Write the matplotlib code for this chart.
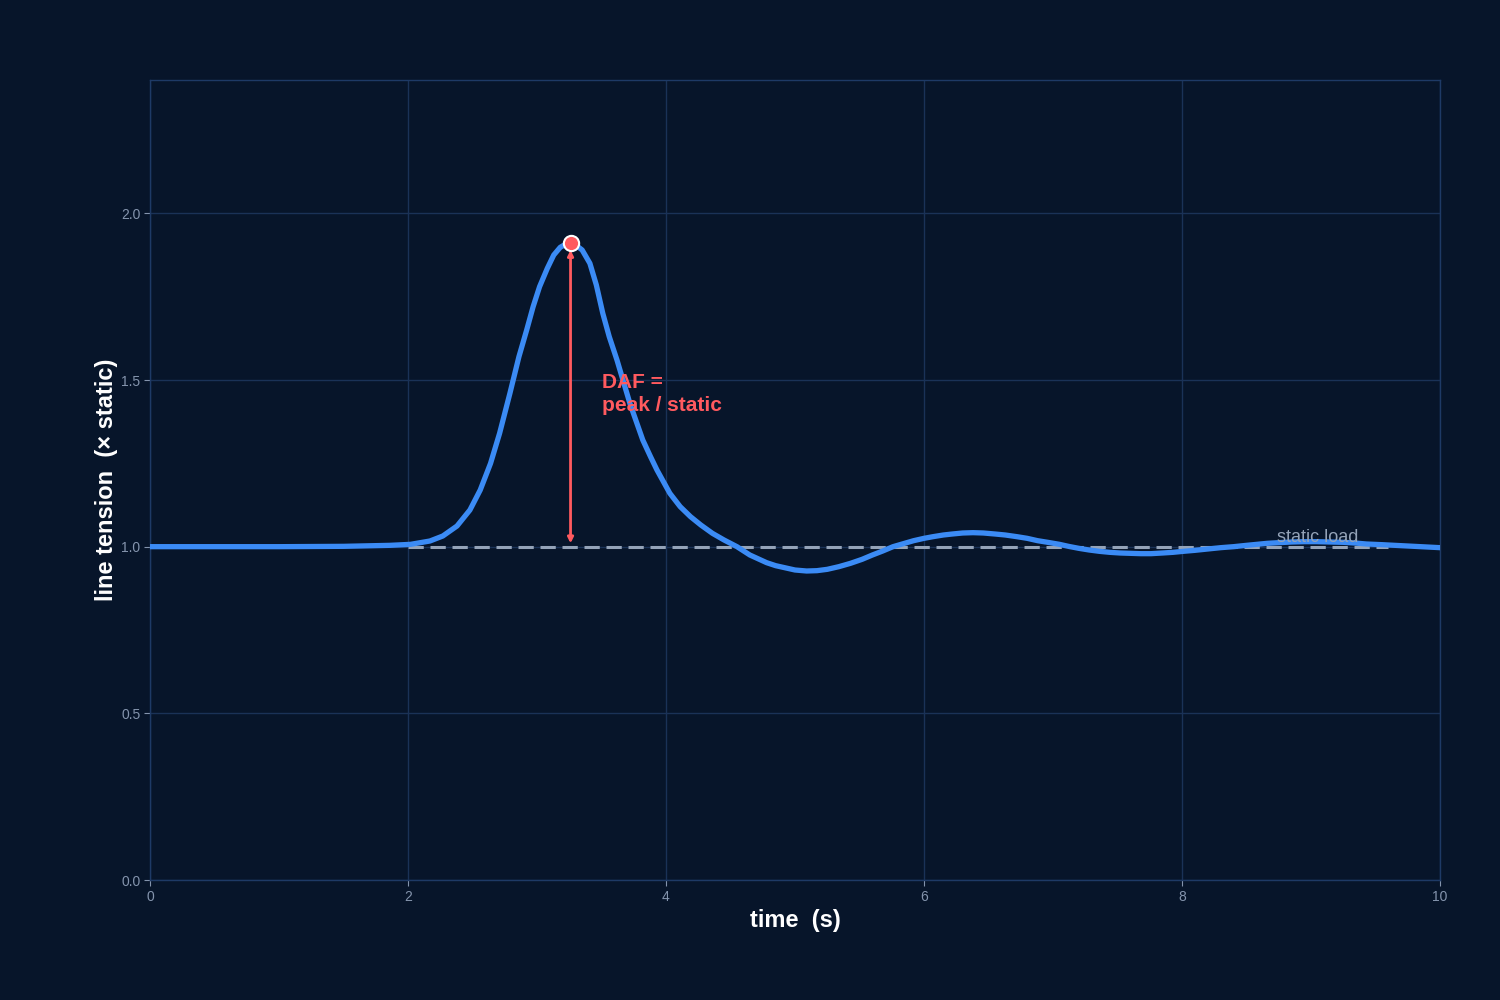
import matplotlib
matplotlib.use("Agg")
import matplotlib.pyplot as plt

plt.rcParams['font.family'] = ['Liberation Sans', 'DejaVu Sans']

# Data
time_s = [0.0, 1.0, 1.5, 1.86, 2.02, 2.17, 2.27, 2.38, 2.48, 2.56, 2.64, 2.71, 2.79,
          2.86, 2.92, 2.97, 3.02, 3.08, 3.13, 3.18, 3.22, 3.26, 3.30, 3.35, 3.41, 3.46,
          3.51, 3.56, 3.62, 3.67, 3.72, 3.77, 3.82, 3.88, 3.93, 3.98, 4.03, 4.11, 4.19,
          4.27, 4.36, 4.45, 4.55, 4.65, 4.78, 4.85, 5.0, 5.09, 5.17, 5.25, 5.34, 5.43,
          5.52, 5.6, 5.68, 5.76, 5.84, 5.92, 6.0, 6.07, 6.15, 6.22, 6.3, 6.38, 6.46,
          6.55, 6.63, 6.72, 6.8, 6.88, 6.96, 7.05, 7.12, 7.2, 7.28, 7.36, 7.44, 7.52,
          7.6, 7.68, 7.76, 7.85, 7.93, 8.01, 8.1, 8.2, 8.3, 8.4, 8.5, 8.66, 8.75, 8.85,
          8.95, 9.04, 9.15, 9.25, 9.34, 9.43, 9.55, 9.7, 9.8, 10.0]
tension = [1.0, 1.0, 1.001, 1.004, 1.007, 1.017, 1.032, 1.062, 1.11, 1.17, 1.25, 1.34,
           1.46, 1.57, 1.65, 1.72, 1.78, 1.835, 1.875, 1.898, 1.907, 1.91, 1.905, 1.89,
           1.85, 1.785, 1.70, 1.63, 1.56, 1.495, 1.43, 1.375, 1.32, 1.27, 1.23, 1.195,
           1.16, 1.12, 1.09, 1.065, 1.04, 1.02, 1.0, 0.975, 0.952, 0.943, 0.93, 0.927,
           0.928, 0.932, 0.94, 0.95, 0.962, 0.975, 0.987, 1.0, 1.009, 1.018, 1.025,
           1.03, 1.035, 1.038, 1.041, 1.042, 1.041, 1.038, 1.035, 1.03, 1.025, 1.018,
           1.013, 1.007, 1.001, 0.995, 0.99, 0.986, 0.983, 0.981, 0.98, 0.979, 0.979,
           0.981, 0.983, 0.986, 0.989, 0.993, 0.997, 1.0, 1.004, 1.01, 1.012, 1.014,
           1.015, 1.015, 1.014, 1.013, 1.011, 1.008, 1.006, 1.003, 1.001, 0.997]
peak_time = 3.26
peak_value = 1.91
static_level = 1.0
static_span = [2.0, 9.6]
x_ticks = [0, 2, 4, 6, 8, 10]
y_ticks = [0.0, 0.5, 1.0, 1.5, 2.0]

BG = '#07152a'
GRID = '#1a3257'
SPINE = '#1e3a66'
BLUE = '#3b8bf5'
RED = '#ff5a5f'
DASH = '#94a3b8'
TICK = '#8494ad'

fig = plt.figure(figsize=(15, 10), dpi=100, facecolor=BG)
ax = fig.add_axes([0.1, 0.12, 0.86, 0.80])
ax.set_facecolor(BG)

ax.set_xlim(0, 10)
ax.set_ylim(0, 2.4)
ax.set_xticks(x_ticks)
ax.set_xticklabels([str(t) for t in x_ticks])
ax.set_yticks(y_ticks)
ax.set_yticklabels([f"{v:.1f}" for v in y_ticks])
ax.grid(True, color=GRID, linewidth=1.0)
ax.set_axisbelow(True)
for s in ax.spines.values():
    s.set_color(SPINE)
    s.set_linewidth(1.0)
ax.tick_params(colors=TICK, labelsize=10, length=4, width=0.8, pad=3)

ax.hlines(static_level, static_span[0], static_span[1], colors=DASH,
          linestyles=(0, (5, 2.2)), linewidth=2.2, zorder=2)
ax.plot(time_s, tension, color=BLUE, linewidth=3.8, zorder=3,
        solid_joinstyle='round', solid_capstyle='round')

ax.annotate('', xy=(peak_time, static_level + 0.01), xytext=(peak_time, peak_value - 0.02),
            arrowprops=dict(arrowstyle='<|-|>', color=RED, lw=2,
                            mutation_scale=8, shrinkA=0, shrinkB=0), zorder=4)
ax.plot([peak_time], [peak_value], marker='o', markersize=11, color=RED,
        markeredgecolor='white', markeredgewidth=1.5, zorder=5)

ax.text(3.5, 1.458, 'DAF =\npeak / static', color=RED, fontsize=15,
        fontweight='bold', ha='left', va='center', linespacing=1.3, zorder=5)
ax.text(9.05, 1.003, 'static load', color=DASH, fontsize=13, ha='center',
        va='bottom', zorder=5)

ax.set_xlabel('time  (s)', color='white', fontsize=17, fontweight='bold', labelpad=4)
ax.set_ylabel('line tension  (× static)', color='white', fontsize=17,
              fontweight='bold', labelpad=2)

fig.savefig('out.png', dpi=100, facecolor=BG)
